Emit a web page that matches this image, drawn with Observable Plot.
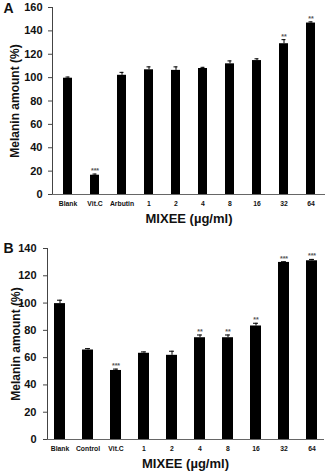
<!DOCTYPE html>
<html><head><meta charset="utf-8">
<script src="https://cdn.jsdelivr.net/npm/d3@7"></script>
<script src="https://cdn.jsdelivr.net/npm/@observablehq/plot@0.6"></script>
<style>
body{margin:0;background:#fff;}
#c{width:325px;}
#c svg{display:block;}
</style>
</head><body><div id="c"></div>
<script>
// Panel A
const categoriesA = ["Blank","Vit.C","Arbutin","1","2","4","8","16","32","64"];
const valuesA = [99.5,16.5,102,106.7,106.2,107.8,111.8,114.6,129,146.7];
const errorsA = [1,1,2.5,2.5,3,1,2.5,1.5,3.5,1];
const starsA = ["","***","","","","","","","**","**"];
const ticksA = [0,20,40,60,80,100,120,140,160];
// Panel B
const categoriesB = ["Blank","Control","Vit.C","1","2","4","8","16","32","64"];
const valuesB = [99.6,65.6,50.6,63.2,61.7,74.6,74.6,83.2,129.8,131];
const errorsB = [2.5,1,1,1,3,2,2,2,0.5,1];
const starsB = ["","","***","","","**","**","**","***","***"];
const ticksB = [0,20,40,60,80,100,120,140];

const yLabel = "Melanin amount (%)";
const xLabel = "MIXEE (µg/ml)";
const FONT = "'Liberation Sans', Arial, sans-serif";

function panel({cats, vals, errs, stars, ticks, letter, height, mTop, mBottom, mLeft, mRight, pi, po, capInset, yLabOff, letterDx, letterDy, tickPad}) {
  const data = cats.map((c,i)=>({c, v: vals[i], e: errs[i], s: stars[i]}));
  return Plot.plot({
    width: 325, height,
    marginTop: mTop, marginBottom: mBottom, marginLeft: mLeft, marginRight: mRight,
    style: {fontFamily: FONT, fontWeight: "bold", color: "#111", background: "#fff"},
    x: {domain: cats, paddingInner: pi, paddingOuter: po, axis: null},
    y: {domain: [0, ticks[ticks.length-1]], axis: null},
    marks: [
      Plot.barY(data, {x: "c", y: "v", fill: "#000"}),
      Plot.ruleX(data, {x: "c", y1: "v", y2: d => d.v + d.e, stroke: "#000", strokeWidth: 1}),
      Plot.tickY(data, {x: "c", y: d => d.v + d.e, stroke: "#000", strokeWidth: 1, insetLeft: capInset, insetRight: capInset}),
      Plot.text(data, {x: "c", y: d => d.v + d.e, text: "s", dy: -1, lineAnchor: "bottom", fontSize: 7, fill: "#555"}),
      Plot.axisY(ticks, {tickSize: 4, tickPadding: tickPad, fontSize: 11, fontWeight: "bold", label: null, stroke: "#444"}),
      Plot.axisX(cats, {tickSize: 0, tickPadding: 7, fontSize: 6.8, fontWeight: "bold", label: null}),
      Plot.frame({anchor: "left", stroke: "#444"}),
      Plot.frame({anchor: "bottom", stroke: "#666"}),
      Plot.text([yLabel], {frameAnchor: "left", rotate: -90, dx: -yLabOff, textAnchor: "middle", lineAnchor: "middle", fontSize: 12, fontWeight: "bold"}),
      Plot.text([xLabel], {frameAnchor: "bottom", dy: 24, lineAnchor: "middle", textAnchor: "middle", fontSize: 13, fontWeight: "bold"}),
      Plot.text([letter], {frameAnchor: "top-left", dx: letterDx, dy: letterDy, textAnchor: "start", lineAnchor: "top", fontSize: 14, fontWeight: "bold"})
    ]
  });
}

const c = document.getElementById("c");
c.append(panel({cats: categoriesA, vals: valuesA, errs: errorsA, stars: starsA, ticks: ticksA, letter: "A",
  height: 228, mTop: 7, mBottom: 34, mLeft: 52, mRight: 0, pi: 0.67, po: 0.31, capInset: 2.5, yLabOff: 37, letterDx: -49, letterDy: -4, tickPad: 6}));
c.append(panel({cats: categoriesB, vals: valuesB, errs: errorsB, stars: starsB, ticks: ticksB, letter: "B",
  height: 243, mTop: 20, mBottom: 32, mLeft: 47, mRight: 2, pi: 0.61, po: 0.23, capInset: 3, yLabOff: 31, letterDx: -44, letterDy: -5, tickPad: 7}));
</script>
</body></html>
